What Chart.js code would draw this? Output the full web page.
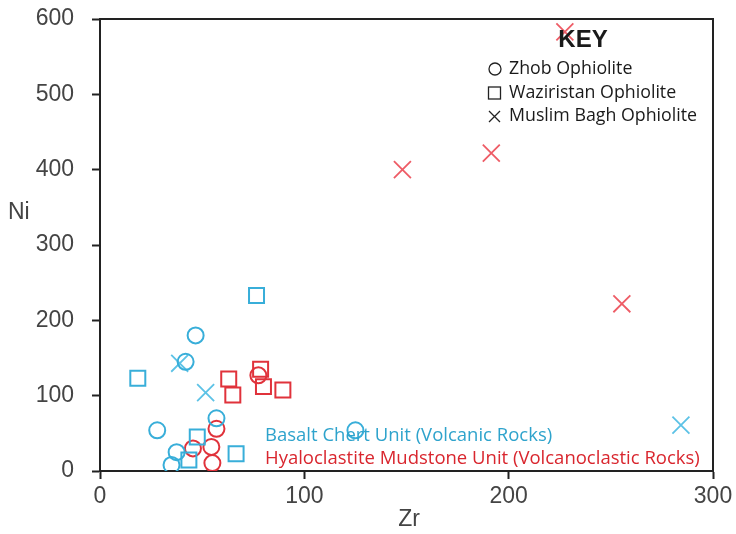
<!DOCTYPE html>
<html>
<head>
<meta charset="utf-8">
<script src="https://cdn.jsdelivr.net/npm/chart.js@4.4.1/dist/chart.umd.min.js"></script>
<style>
  html, body { margin: 0; padding: 0; background: #fff; }
  #wrap { width: 736px; height: 534px; }
</style>
</head>
<body>
<div id="wrap"><canvas id="chart" width="736" height="534"></canvas></div>
<script>
  // Zr (x) vs Ni (y)
  // Basalt Chert Unit (blue)
  const zhobBasaltZr = [46.8, 41.9, 57, 28, 37.5, 35, 125];
  const zhobBasaltNi = [180, 145, 70, 54, 25, 8, 54];
  const wazBasaltZr = [76.6, 18.5, 47.6, 43.5, 66.6];
  const wazBasaltNi = [233, 123, 45, 14.5, 23];
  const muslimBasaltZr = [39, 51.7, 284.3];
  const muslimBasaltNi = [143, 104, 61];

  // Hyaloclastite Mudstone Unit (red)
  const zhobHyaloZr = [57, 45.5, 54.5, 55, 77.5];
  const zhobHyaloNi = [56, 30, 32, 10.5, 127];
  const wazHyaloZr = [63, 65, 78.6, 80, 89.5];
  const wazHyaloNi = [122, 101, 135, 112, 107.5];
  const muslimHyaloZr = [227.5, 148, 191.5, 255.4];
  const muslimHyaloNi = [583, 400, 422, 222];

  const xTicks = [0, 100, 200, 300];
  const yTicks = [0, 100, 200, 300, 400, 500, 600];

  const BLUE = '#38aed9';
  const RED = '#e0323b';
  const BLUE_X = '#5cc2e6';
  const RED_X = '#ee5c66';

  function pts(xs, ys) {
    return xs.map((x, i) => ({ x: x, y: ys[i] }));
  }

  function series(label, xs, ys, color, style, radius, width) {
    return {
      label: label,
      data: pts(xs, ys),
      pointStyle: style,
      pointRadius: radius,
      pointHoverRadius: radius,
      pointBorderWidth: width,
      borderColor: color,
      backgroundColor: 'rgba(0,0,0,0)',
      showLine: false
    };
  }

  // =========================
  // EXTRA DRAWING: frame, titles, key, unit labels
  // =========================
  const extras = {
    id: 'extras',
    afterDraw(chart) {
      const ctx = chart.ctx;
      const a = chart.chartArea;
      ctx.save();

      // top + right frame
      ctx.strokeStyle = '#222';
      ctx.lineWidth = 2;
      ctx.beginPath();
      ctx.moveTo(a.left, a.top);
      ctx.lineTo(a.right, a.top);
      ctx.lineTo(a.right, a.bottom);
      ctx.stroke();

      // axis titles
      ctx.fillStyle = '#444';
      ctx.font = '23px "Liberation Sans"';
      ctx.textBaseline = 'middle';
      ctx.textAlign = 'left';
      ctx.fillText('Ni', 8, 213);
      ctx.textAlign = 'center';
      ctx.fillText('Zr', 409, 520);

      // key
      ctx.fillStyle = '#1a1a1a';
      ctx.font = 'bold 24px "Liberation Sans"';
      ctx.fillText('KEY', 583, 40);

      ctx.strokeStyle = '#222';
      ctx.lineWidth = 1.3;
      ctx.beginPath();
      ctx.arc(495, 69, 6, 0, Math.PI * 2);
      ctx.stroke();
      ctx.strokeRect(488.5, 87, 12, 12);
      ctx.beginPath();
      ctx.moveTo(489, 111); ctx.lineTo(500, 122);
      ctx.moveTo(500, 111); ctx.lineTo(489, 122);
      ctx.stroke();

      ctx.textAlign = 'left';
      ctx.font = '17.8px "Open Sans"';
      ctx.fillText('Zhob Ophiolite', 509, 69);
      ctx.fillText('Waziristan Ophiolite', 509, 93);
      ctx.fillText('Muslim Bagh Ophiolite', 509, 116);

      // unit labels
      ctx.font = '18.5px "Open Sans"';
      ctx.fillStyle = '#2ea3cc';
      ctx.fillText('Basalt Chert Unit (Volcanic Rocks)', 265, 436);
      ctx.fillStyle = '#d9262e';
      ctx.fillText('Hyaloclastite Mudstone Unit (Volcanoclastic Rocks)', 265, 459);

      ctx.restore();
    }
  };

  const ctx = document.getElementById('chart').getContext('2d');

  new Chart(ctx, {
    type: 'scatter',
    data: {
      datasets: [
        series('Zhob - Basalt', zhobBasaltZr, zhobBasaltNi, BLUE, 'circle', 8, 2),
        series('Waziristan - Basalt', wazBasaltZr, wazBasaltNi, BLUE, 'rect', 10.6, 2),
        series('Muslim Bagh - Basalt', muslimBasaltZr, muslimBasaltNi, BLUE_X, 'crossRot', 12, 1.8),
        series('Zhob - Hyaloclastite', zhobHyaloZr, zhobHyaloNi, RED, 'circle', 8, 2),
        series('Waziristan - Hyaloclastite', wazHyaloZr, wazHyaloNi, RED, 'rect', 10.6, 2),
        series('Muslim Bagh - Hyaloclastite', muslimHyaloZr, muslimHyaloNi, RED_X, 'crossRot', 12, 1.8)
      ]
    },
    options: {
      responsive: false,
      animation: false,
      layout: { padding: { left: 0, right: 23, top: 19, bottom: 0 } },
      plugins: {
        legend: { display: false },
        tooltip: { enabled: false }
      },
      scales: {
        x: {
          type: 'linear',
          min: 0,
          max: 300,
          afterBuildTicks: s => { s.ticks = xTicks.map(v => ({ value: v })); },
          afterFit: s => { s.height = 63; s.paddingLeft = 0; s.paddingRight = 0; },
          ticks: {
            color: '#444',
            padding: 4,
            maxRotation: 0,
            font: { family: '"Liberation Sans"', size: 23 }
          },
          grid: { drawOnChartArea: false, tickLength: 8, tickColor: '#222', tickWidth: 2 },
          border: { color: '#222', width: 2 }
        },
        y: {
          type: 'linear',
          min: 0,
          max: 600,
          afterBuildTicks: s => { s.ticks = yTicks.map(v => ({ value: v })); },
          afterFit: s => { s.width = 100; s.paddingTop = 0; s.paddingBottom = 0; },
          ticks: {
            color: '#444',
            padding: 18,
            font: { family: '"Liberation Sans"', size: 23 }
          },
          grid: { drawOnChartArea: false, tickLength: 8, tickColor: '#222', tickWidth: 2 },
          border: { color: '#222', width: 2 }
        }
      }
    },
    plugins: [extras]
  });
</script>
</body>
</html>
